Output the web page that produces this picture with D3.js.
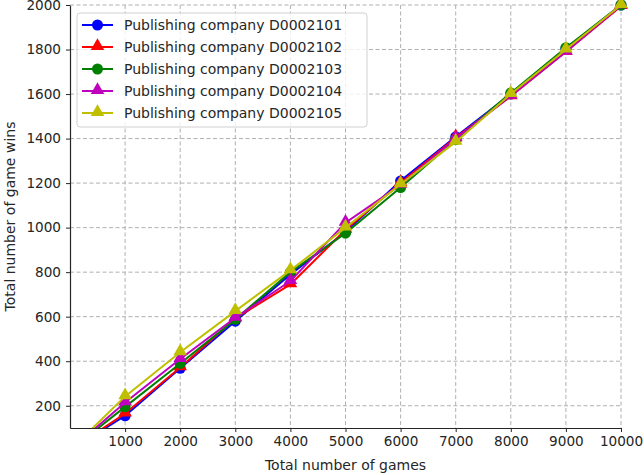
<!DOCTYPE html>
<html>
<head>
<meta charset="utf-8">
<script src="https://cdn.jsdelivr.net/npm/d3@7"></script>
<style>
  body { margin: 0; background: #fff; }
  text { font-family: "DejaVu Sans", sans-serif; }
</style>
</head>
<body>
<div id="chart"></div>
<script>
//Data
var games = [0, 1000, 2000, 3000, 4000, 5000, 6000, 7000, 8000, 9000, 10000];
var seriesNames = [
  "Publishing company D0002101",
  "Publishing company D0002102",
  "Publishing company D0002103",
  "Publishing company D0002104",
  "Publishing company D0002105"
];
var winsD0002101 = [0, 155, 368, 580, 790, 980, 1210, 1408, 1600, 1805, 2000];
var winsD0002102 = [0, 165, 372, 592, 745, 990, 1200, 1405, 1590, 1790, 1995];
var winsD0002103 = [0, 195, 390, 588, 800, 975, 1180, 1395, 1605, 1808, 2000];
var winsD0002104 = [0, 215, 410, 595, 760, 1022, 1192, 1400, 1592, 1790, 1998];
var winsD0002105 = [0, 242, 440, 625, 808, 1000, 1195, 1385, 1600, 1800, 2000];
var xTicks = [1000, 2000, 3000, 4000, 5000, 6000, 7000, 8000, 9000, 10000];
var yTicks = [200, 400, 600, 800, 1000, 1200, 1400, 1600, 1800, 2000];

var colors = ["#0000ff", "#ff0000", "#008000", "#bf00bf", "#bfbf00"];
var markers = ["circle", "triangle", "circle", "triangle", "triangle"];
var allWins = [winsD0002101, winsD0002102, winsD0002103, winsD0002104, winsD0002105];

var W = 644, H = 475;
var margin = { top: 5, right: 23, bottom: 47, left: 70 };
var width = W - margin.left - margin.right,
  height = H - margin.top - margin.bottom;

var svg = d3.select("#chart").append("svg")
  .attr("width", W).attr("height", H)
  .append("g")
  .attr("transform", "translate(" + margin.left + "," + margin.top + ")");

var x = d3.scaleLinear().domain([0, 10000]).range([0, width]);
var y = d3.scaleLinear().domain([100, 2000]).range([height, 0]);

// grid
svg.append("g").selectAll("line").data(xTicks).enter().append("line")
  .attr("x1", d => x(d)).attr("x2", d => x(d))
  .attr("y1", 0).attr("y2", height)
  .attr("stroke", "#b0b0b0").attr("stroke-width", 1).attr("stroke-dasharray", "4,2.5");
svg.append("g").selectAll("line").data(yTicks).enter().append("line")
  .attr("y1", d => y(d)).attr("y2", d => y(d))
  .attr("x1", 0).attr("x2", width)
  .attr("stroke", "#b0b0b0").attr("stroke-width", 1).attr("stroke-dasharray", "4,2.5");

// clip for the lines
svg.append("clipPath").attr("id", "clip").append("rect")
  .attr("x", -1).attr("y", -8).attr("width", width + 8).attr("height", height + 8);

var plot = svg.append("g").attr("clip-path", "url(#clip)");
var line = d3.line().x((d, i) => x(games[i])).y(d => y(d));
var tri = d3.symbol().type(d3.symbolTriangle).size(80);

allWins.forEach(function (vals, k) {
  var g = plot.append("g");
  g.append("path").datum(vals).attr("d", line)
    .attr("fill", "none").attr("stroke", colors[k]).attr("stroke-width", 2);
  vals.forEach(function (v, i) {
    if (markers[k] === "circle") {
      g.append("circle").attr("cx", x(games[i])).attr("cy", y(v)).attr("r", 5.5)
        .attr("fill", colors[k]);
    } else {
      g.append("path").attr("d", tri)
        .attr("transform", "translate(" + x(games[i]) + "," + (y(v) - 1) + ")")
        .attr("fill", colors[k]);
    }
  });
});

// axes
var xAxis = svg.append("g").attr("transform", "translate(0," + height + ")")
  .call(d3.axisBottom(x).tickValues(xTicks).tickFormat(d3.format("d"))
    .tickSize(4).tickPadding(4).tickSizeOuter(0));
var yAxis = svg.append("g")
  .call(d3.axisLeft(y).tickValues(yTicks).tickFormat(d3.format("d"))
    .tickSize(4).tickPadding(5).tickSizeOuter(0));
[xAxis, yAxis].forEach(function (a) {
  a.selectAll("text").style("font-size", "13.6px").attr("fill", "#262626")
    .style("font-family", "DejaVu Sans");
  a.selectAll("line").attr("stroke", "#262626");
  a.select(".domain").attr("stroke", "#262626").attr("stroke-width", 1.2);
});

svg.append("text").attr("x", width / 2).attr("y", height + 42)
  .attr("text-anchor", "middle").style("font-size", "14px").attr("fill", "#262626")
  .text("Total number of games");
svg.append("text").attr("transform", "translate(" + (-55) + "," + (height / 2) + ") rotate(-90)")
  .attr("text-anchor", "middle").style("font-size", "14px").attr("fill", "#262626")
  .text("Total number of game wins");

// legend
var legend = svg.append("g").attr("transform", "translate(7,8)");
legend.append("rect").attr("width", 290).attr("height", 114).attr("rx", 3)
  .attr("fill", "rgba(255,255,255,0.8)").attr("stroke", "#d0d0d0");
seriesNames.forEach(function (name, k) {
  var row = legend.append("g").attr("transform", "translate(0," + (12 + k * 22) + ")");
  row.append("line").attr("x1", 5).attr("x2", 36).attr("stroke", colors[k]).attr("stroke-width", 2);
  if (markers[k] === "circle") {
    row.append("circle").attr("cx", 20.5).attr("cy", 0).attr("r", 5.5).attr("fill", colors[k]);
  } else {
    row.append("path").attr("d", tri).attr("transform", "translate(20.5,-1)").attr("fill", colors[k]);
  }
  row.append("text").attr("x", 47).attr("y", 0).attr("dy", "0.35em")
    .style("font-size", "14px").attr("fill", "#262626").text(name);
});
</script>
</body>
</html>
